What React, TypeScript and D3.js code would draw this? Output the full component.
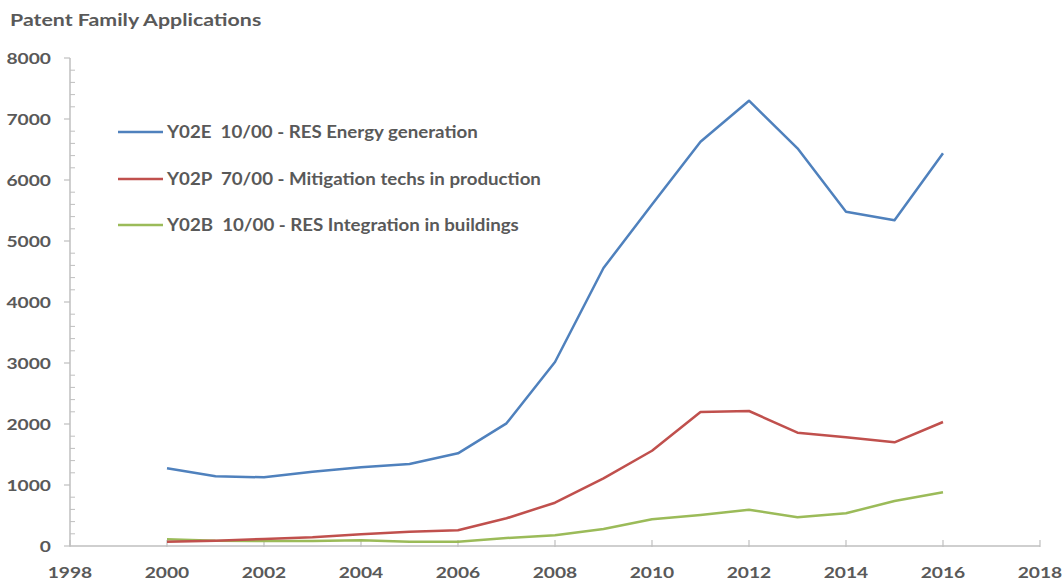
import React, { useEffect, useRef } from "react";
import * as d3 from "d3";

const years = [2000, 2001, 2002, 2003, 2004, 2005, 2006, 2007, 2008, 2009, 2010, 2011, 2012, 2013, 2014, 2015, 2016];
const energyGeneration = [1273, 1142, 1126, 1218, 1290, 1344, 1519, 2011, 3016, 4557, 5600, 6628, 7300, 6520, 5480, 5339, 6438];
const mitigationProduction = [70, 87, 115, 142, 191, 235, 257, 454, 710, 1110, 1562, 2197, 2213, 1858, 1782, 1700, 2033];
const integrationBuildings = [110, 87, 82, 80, 93, 70, 70, 131, 175, 279, 437, 508, 595, 470, 536, 738, 880];

const seriesNames = [
  "Y02E  10/00 - RES Energy generation",
  "Y02P  70/00 - Mitigation techs in production",
  "Y02B  10/00 - RES Integration in buildings",
];
const seriesColors = ["#4F81BD", "#C0504D", "#9BBB59"];
const xTicks = [1998, 2000, 2002, 2004, 2006, 2008, 2010, 2012, 2014, 2016, 2018];
const yTicks = [0, 1000, 2000, 3000, 4000, 5000, 6000, 7000, 8000];
const title = "Patent Family Applications";

export default function App() {
  const ref = useRef<SVGSVGElement>(null);
  useEffect(() => {
    const svg = d3.select(ref.current);
    svg.selectAll("*").remove();
    const W = 1064, H = 582;
    const left = 70, right = 1040, top = 58, bottom = 546;
    const x = d3.scaleLinear().domain([1998, 2018]).range([left, right]);
    const y = d3.scaleLinear().domain([0, 8000]).range([bottom, top]);
    const font = "Lato, 'Open Sans', sans-serif";
    const textColor = "#595959";
    const axisColor = "#BFBFBF";

    svg.append("rect").attr("width", W).attr("height", H).attr("fill", "#fff");

    const label = (tx: number, ty: number, s: string, size: number, sx: number, anchor: string, dy = "0") =>
      svg.append("text").attr("transform", `translate(${tx},${ty}) scale(${sx},1)`)
        .attr("dy", dy).attr("text-anchor", anchor).style("white-space", "pre").text(s)
        .attr("font-family", font).attr("font-weight", 700).attr("font-size", size).attr("fill", textColor);

    label(10, 26, title, 17.5, 1.22, "start");

    // y axis
    const g = svg.append("g");
    g.append("line").attr("x1", left).attr("x2", left).attr("y1", top).attr("y2", bottom)
      .attr("stroke", axisColor).attr("stroke-width", 1.5);
    const minor = d3.range(0, 8001, 200).filter((v) => v % 1000 !== 0);
    minor.forEach((v) => {
      g.append("line").attr("x1", left).attr("x2", left + 5).attr("y1", y(v)).attr("y2", y(v))
        .attr("stroke", axisColor).attr("stroke-width", 1);
    });
    yTicks.forEach((v) => {
      g.append("line").attr("x1", left - 6).attr("x2", left).attr("y1", y(v)).attr("y2", y(v))
        .attr("stroke", axisColor).attr("stroke-width", 1.2);
      label(51, y(v), String(v), 16, 1.2, "end", "0.35em");
    });

    // x axis
    g.append("line").attr("x1", left).attr("x2", right).attr("y1", bottom).attr("y2", bottom)
      .attr("stroke", axisColor).attr("stroke-width", 1.5);
    xTicks.forEach((v) => {
      g.append("line").attr("x1", x(v)).attr("x2", x(v)).attr("y1", bottom - 6).attr("y2", bottom + 1)
        .attr("stroke", axisColor).attr("stroke-width", 1.2);
      label(x(v), 578, String(v), 16, 1.2, "middle");
    });

    const allSeries = [energyGeneration, mitigationProduction, integrationBuildings];
    const line = d3.line<number>().x((_, i) => x(years[i])).y((d) => y(d));
    [2, 1, 0].forEach((si) => {
      svg.append("path").attr("d", line(allSeries[si]) as string).attr("fill", "none")
        .attr("stroke", seriesColors[si]).attr("stroke-width", 2.5).attr("stroke-linejoin", "round");
    });

    // legend
    const legY = [132, 179, 225];
    seriesNames.forEach((name, i) => {
      svg.append("line").attr("x1", 118).attr("x2", 163).attr("y1", legY[i]).attr("y2", legY[i])
        .attr("stroke", seriesColors[i]).attr("stroke-width", 2.5);
      label(167, legY[i], name, 17, 1.1, "start", "0.35em");
    });
  }, []);
  return <svg ref={ref} width={1064} height={582} style={{ display: "block", position: "absolute", left: 0, top: 0 }} />;
}
